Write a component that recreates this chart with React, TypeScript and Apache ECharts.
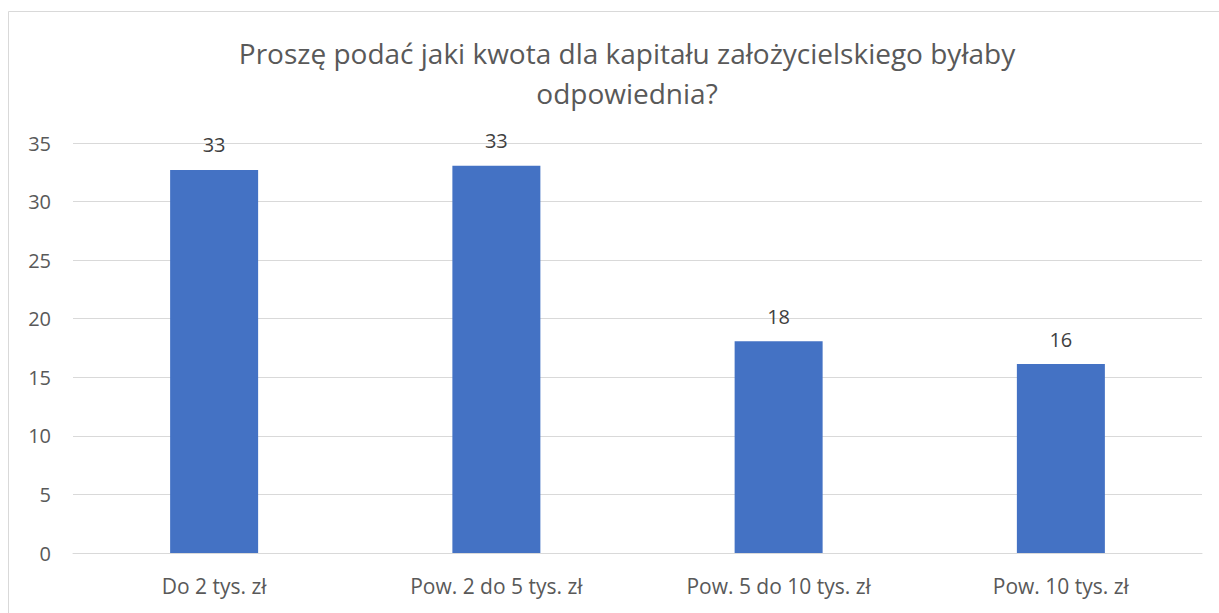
import React, { useEffect, useRef } from "react";
import * as echarts from "echarts";

const titleText = "Proszę podać jaki kwota dla kapitału założycielskiego byłaby\nodpowiednia?";
const categories = ["Do 2 tys. zł", "Pow. 2 do 5 tys. zł", "Pow. 5 do 10 tys. zł", "Pow. 10 tys. zł"];
const values = [32.7, 33.05, 18.07, 16.13];
const yTicks = { min: 0, max: 35, interval: 5 };

export default function App() {
  const ref = useRef<HTMLDivElement>(null);
  useEffect(() => {
    if (!ref.current) return;
    const chart = echarts.init(ref.current, undefined, { renderer: "svg" });
    const font = "Open Sans";
    chart.setOption({
      animation: false,
      backgroundColor: "#ffffff",
      title: {
        text: titleText,
        left: 622,
        textAlign: "center",
        top: 28,
        textStyle: {
          fontFamily: font,
          fontSize: 28,
          fontWeight: "normal",
          color: "#595959",
          lineHeight: 40,
        },
      },
      graphic: [
        {
          type: "rect",
          shape: { x: 8.5, y: 11.5, width: 1300, height: 700 },
          style: { fill: "none", stroke: "#d9d9d9", lineWidth: 1 },
          silent: true,
        },
      ],
      grid: { left: 73, right: 17, top: 143, bottom: 60, containLabel: false },
      xAxis: {
        type: "category",
        data: categories,
        axisLine: { show: true, lineStyle: { color: "#d9d9d9", width: 1 } },
        axisTick: { show: false },
        axisLabel: {
          fontFamily: font,
          fontSize: 21,
          color: "#595959",
          margin: 22,
        },
      },
      yAxis: {
        type: "value",
        min: yTicks.min,
        max: yTicks.max,
        interval: yTicks.interval,
        axisLine: { show: false },
        axisTick: { show: false },
        splitLine: { lineStyle: { color: "#d9d9d9", width: 1 } },
        axisLabel: {
          fontFamily: font,
          fontSize: 20,
          color: "#595959",
          margin: 22,
        },
      },
      series: [
        {
          type: "bar",
          data: values,
          barWidth: 88,
          itemStyle: { color: "#4472c4" },
          label: {
            show: true,
            position: "top",
            distance: 15,
            fontFamily: font,
            fontSize: 20,
            color: "#404040",
            formatter: (p: any) => String(Math.round(p.value)),
          },
        },
      ],
    });
    return () => chart.dispose();
  }, []);
  return (
    <div
      ref={ref}
      style={{ position: "absolute", left: 0, top: 0, width: 1219, height: 613 }}
    />
  );
}
